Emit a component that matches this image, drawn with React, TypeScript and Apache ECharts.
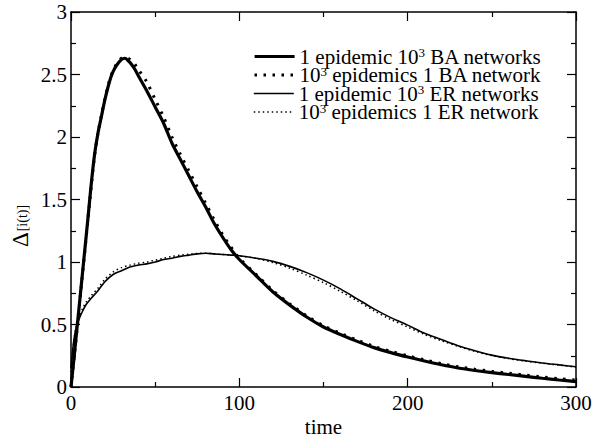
import React, { useEffect, useRef } from "react";
import * as echarts from "echarts";

const FONT = "Liberation Serif";

const seriesNames = [
  "1 epidemic 10³ BA networks",
  "10³ epidemics 1 BA network",
  "1 epidemic 10³ ER networks",
  "10³ epidemics 1 ER network",
];

const tBA = [0, 2, 4, 6, 8, 10, 12, 14, 16, 18, 20, 22, 24, 26, 28, 30, 32, 34, 36, 38, 40,
  45, 50, 55, 60, 65, 70, 75, 80, 85, 90, 95, 100,
  110, 120, 130, 140, 150, 160, 170, 180, 190, 200, 210, 220, 230, 240, 250, 260, 270, 280, 290, 300];

const baSolid = [0, 0.26, 0.53, 0.8, 1.07, 1.34, 1.62, 1.86, 2.03, 2.16, 2.29, 2.4, 2.49, 2.55, 2.59, 2.62, 2.63, 2.61, 2.58, 2.54, 2.49,
  2.37, 2.24, 2.11, 1.95, 1.82, 1.69, 1.56, 1.44, 1.31, 1.2, 1.1, 1.02,
  0.89, 0.76, 0.655, 0.56, 0.48, 0.42, 0.365, 0.315, 0.275, 0.24, 0.208, 0.178, 0.152, 0.132, 0.115, 0.1, 0.085, 0.07, 0.056, 0.043];

const baDotted = [0, 0.25, 0.52, 0.79, 1.06, 1.33, 1.6, 1.85, 2.03, 2.17, 2.3, 2.41, 2.5, 2.56, 2.6, 2.63, 2.64, 2.63, 2.61, 2.58, 2.54,
  2.44, 2.3, 2.16, 2.0, 1.86, 1.73, 1.6, 1.47, 1.34, 1.22, 1.12, 1.03,
  0.9, 0.77, 0.665, 0.57, 0.49, 0.43, 0.375, 0.325, 0.285, 0.25, 0.218, 0.188, 0.162, 0.142, 0.125, 0.11, 0.095, 0.08, 0.067, 0.055];

const tER = [0, 1, 2, 3, 5, 7, 9, 12, 16, 20, 25, 30, 35, 40, 45, 50, 55, 60, 65, 70, 75, 80, 85, 90, 95, 100,
  110, 120, 130, 140, 150, 160, 170, 180, 190, 200, 210, 220, 230, 240, 250, 260, 270, 280, 290, 300];

const erSolid = [0.15, 0.3, 0.4, 0.47, 0.55, 0.61, 0.66, 0.71, 0.77, 0.84, 0.9, 0.93, 0.96, 0.975, 0.985, 1.0, 1.02, 1.03, 1.045, 1.055,
  1.065, 1.07, 1.065, 1.06, 1.055, 1.05, 1.03, 1.005, 0.965, 0.915, 0.855, 0.785, 0.705, 0.625, 0.555, 0.495, 0.43, 0.38, 0.33, 0.29,
  0.255, 0.23, 0.21, 0.192, 0.177, 0.162];

const erDotted = [0.12, 0.28, 0.4, 0.48, 0.57, 0.63, 0.68, 0.73, 0.79, 0.86, 0.92, 0.955, 0.975, 0.99, 1.0, 1.015, 1.03, 1.045, 1.055, 1.062,
  1.068, 1.07, 1.065, 1.06, 1.055, 1.048, 1.03, 0.995, 0.95, 0.895, 0.835, 0.765, 0.69, 0.61, 0.54, 0.48, 0.42, 0.37, 0.325, 0.285,
  0.252, 0.227, 0.207, 0.19, 0.175, 0.16];

const legendRowsY = [55, 73.5, 92, 110.5];

function pairs(t: number[], v: number[]) {
  return t.map((x, i) => [x, v[i]]);
}

export default function App() {
  const ref = useRef<HTMLDivElement>(null);
  useEffect(() => {
    if (!ref.current) return;
    const chart = echarts.init(ref.current, null, { renderer: "svg" });

    const axisCommon = {
      type: "value" as const,
      axisLine: { show: true, onZero: false, lineStyle: { color: "#000", width: 1.5 } },
      axisTick: { show: true, inside: true, length: 9, lineStyle: { color: "#000", width: 1.2 } },
      minorTick: { show: true, splitNumber: 2, length: 5, lineStyle: { color: "#000", width: 1.2 } },
      splitLine: { show: false },
      minorSplitLine: { show: false },
    };

    const styles: any[] = [
      { width: 3.2, type: "solid" },
      { width: 3, type: [2.5, 6.5], cap: "butt" },
      { width: 1.6, type: "solid" },
      { width: 1.5, type: [1.5, 3], cap: "butt" },
    ];
    const datas = [pairs(tBA, baSolid), pairs(tBA, baDotted), pairs(tER, erSolid), pairs(tER, erDotted)];

    const richText = {
      n: { fontSize: 21, fontFamily: FONT, color: "#000", lineHeight: 18 },
      s: { fontSize: 13, fontFamily: FONT, color: "#000", lineHeight: 18, padding: [0, 0, 8, 0] },
    };

    const option: any = {
      animation: false,
      backgroundColor: "#fff",
      textStyle: { fontFamily: FONT },
      grid: { left: 71, right: 17, top: 12, bottom: 51, containLabel: false, outerBoundsMode: "none" },
      xAxis: [
        {
          ...axisCommon,
          position: "bottom",
          min: 0,
          max: 300,
          interval: 100,
          axisLabel: { show: true, fontSize: 21, fontFamily: FONT, color: "#000", margin: 5 },
          name: "time",
          nameLocation: "middle",
          nameGap: 29,
          nameMoveOverlap: false,
          nameTextStyle: { fontSize: 21, fontFamily: FONT, color: "#000" },
        },
        {
          ...axisCommon,
          position: "top",
          min: 0,
          max: 300,
          interval: 100,
          axisLabel: { show: false },
        },
      ],
      yAxis: [
        {
          ...axisCommon,
          position: "left",
          min: 0,
          max: 3,
          interval: 0.5,
          axisLabel: { show: true, fontSize: 21, fontFamily: FONT, color: "#000", margin: 4 },
        },
        {
          ...axisCommon,
          position: "right",
          min: 0,
          max: 3,
          interval: 0.5,
          axisLabel: { show: false },
        },
      ],
      legend: seriesNames.map((name, i) => ({
        data: [name],
        left: 253,
        top: legendRowsY[i] - 9,
        orient: "vertical",
        itemWidth: 40,
        itemHeight: 14,
        padding: 0,
        itemGap: 0,
        selectedMode: false,
        itemStyle: { opacity: 0 },
        lineStyle: { color: "#000", ...styles[i] },
        textStyle: { fontSize: 21, fontFamily: FONT, color: "#000", rich: richText },
        formatter: (n: string) => "{n|" + n.replace("10³", "10}{s|3}{n|") + "}",
      })),
      graphic: [
        {
          type: "text",
          x: 20,
          y: 226,
          rotation: Math.PI / 2,
          style: {
            text: "{d|Δ}{s|[i(t)]}",
            align: "center",
            verticalAlign: "middle",
            fontFamily: FONT,
            rich: {
              d: { fontSize: 23, fontFamily: FONT, fill: "#000", color: "#000" },
              s: { fontSize: 14, fontFamily: FONT, fill: "#000", color: "#000", padding: [5, 0, 0, 1] },
            },
          },
        },
      ],
      series: seriesNames.map((name, i) => ({
        name,
        type: "line",
        xAxisIndex: 0,
        yAxisIndex: 0,
        data: datas[i],
        symbol: "none",
        showSymbol: false,
        smooth: 0.3,
        color: "#000",
        lineStyle: { color: "#000", ...styles[i] },
        z: 4 - i,
      })),
    };
    chart.setOption(option);
    return () => chart.dispose();
  }, []);
  return (
    <div
      ref={ref}
      style={{ position: "fixed", left: 0, top: 0, width: 593, height: 438, background: "#fff" }}
    />
  );
}
